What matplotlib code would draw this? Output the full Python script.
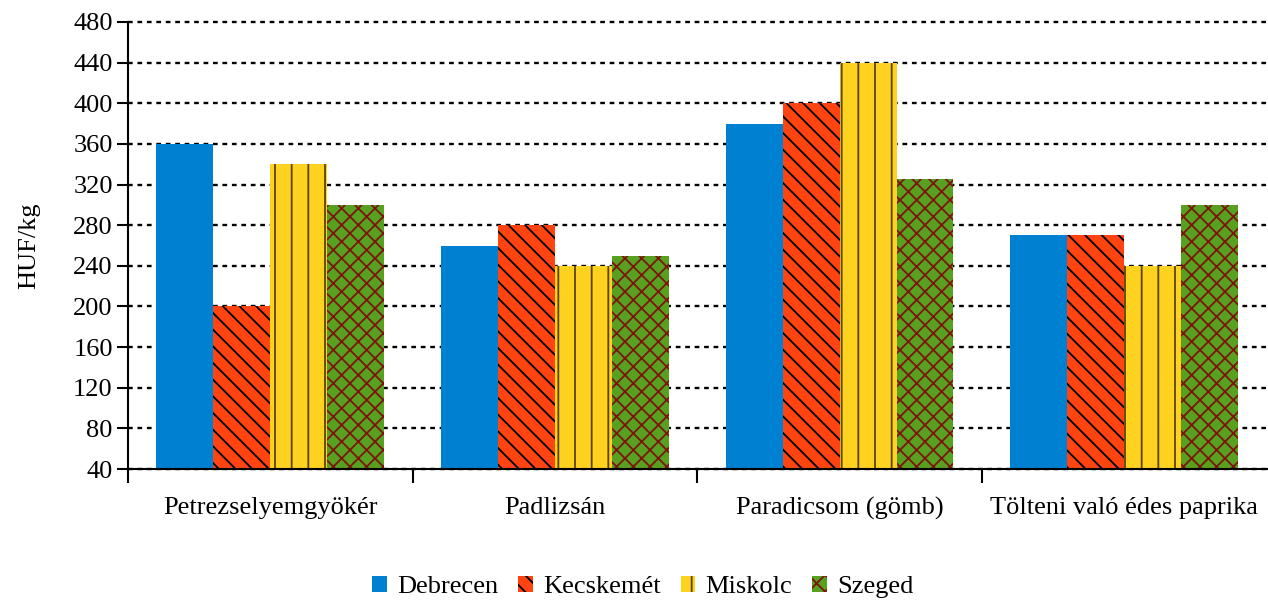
import matplotlib
matplotlib.use("Agg")
import matplotlib.pyplot as plt
import numpy as np

categories = ["Petrezselyemgyökér", "Padlizsán", "Paradicsom (gömb)", "Tölteni való édes paprika"]
series_names = ["Debrecen", "Kecskemét", "Miskolc", "Szeged"]
debrecen = [360, 260, 380, 270]
kecskemet = [200, 280, 400, 270]
miskolc = [340, 240, 440, 240]
szeged = [300, 250, 325, 300]
y_ticks = [40, 80, 120, 160, 200, 240, 280, 320, 360, 400, 440, 480]

plt.rcParams['font.family'] = ['Liberation Serif', 'DejaVu Serif']
plt.rcParams['hatch.linewidth'] = 1.3

FS = 19
fig = plt.figure(figsize=(12.68, 6.0), dpi=100)
ax = fig.add_axes([128/1268, 1 - 469/600, (1268 - 128)/1268, (469 - 22)/600])

colors = ["#0080D0", "#FF4411", "#FFD220", "#58A020"]
hatches = [None, "\\\\", "|", "xx"]
hcolors = ["#0080D0", "#000000", "#5A4400", "#7A1508"]
data = [debrecen, kecskemet, miskolc, szeged]
x = np.arange(len(categories))
w = 0.2
for i, (vals, c, h, hc, name) in enumerate(zip(data, colors, hatches, hcolors, series_names)):
    v = np.array(vals, dtype=float)
    ax.bar(x + (i - 1.5) * w, v - 40, bottom=40, width=w, color=c,
           edgecolor=hc, linewidth=0, hatch=h, label=name, zorder=2)

ax.set_ylim(40, 480)
ax.set_xlim(-0.5, 3.5 + 0.005)
ax.set_yticks(y_ticks)
ax.set_yticklabels([str(t) for t in y_ticks], fontsize=FS)
ax.grid(axis='y', color='black', linestyle=(0, (2, 2)), linewidth=1.7, zorder=0)
ax.set_axisbelow(True)
for gl in ax.get_ygridlines():
    gl.set_clip_on(False)

ax.set_xticks(x)
ax.set_xticklabels(categories, fontsize=FS)
ax.set_xticks(np.arange(-0.5, 3.5, 1.0), minor=True)
ax.tick_params(axis='x', which='major', length=0, pad=20)
ax.tick_params(axis='x', which='minor', length=10, width=1.5, direction='out')
ax.tick_params(axis='y', length=8, width=1.5, direction='out', pad=3)

for s in ['top', 'right']:
    ax.spines[s].set_visible(False)
ax.spines['left'].set_linewidth(1.5)
ax.spines['bottom'].set_linewidth(1.5)

ax.set_ylabel("HUF/kg", fontsize=FS, labelpad=24)

leg = fig.legend(loc='center', bbox_to_anchor=(0.507, 1 - 587/600), ncol=4, frameon=False,
                 fontsize=FS, handlelength=0.55, handleheight=0.55, handletextpad=0.4,
                 columnspacing=0.75, borderpad=0)

fig.savefig("out.png", dpi=100)
